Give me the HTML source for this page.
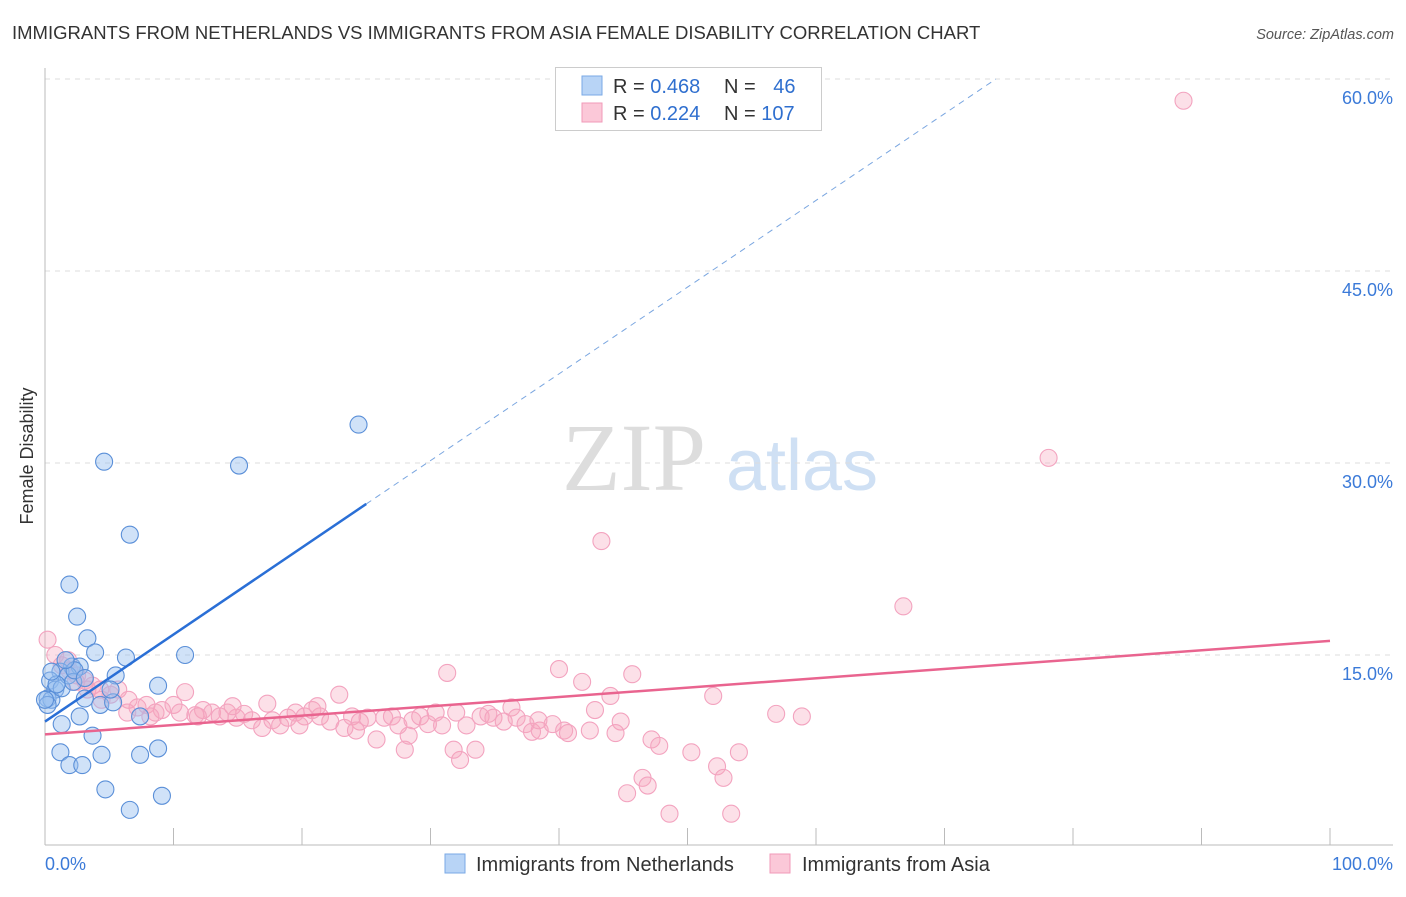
<!DOCTYPE html>
<html><head><meta charset="utf-8"><style>
body{margin:0;background:#fff;font-family:"Liberation Sans",sans-serif}
svg text{font-family:"Liberation Sans",sans-serif}
</style></head><body>
<svg width="1406" height="892" viewBox="0 0 1406 892" id="chart">
<text x="12" y="39" font-size="18.5" fill="#333">IMMIGRANTS FROM NETHERLANDS VS IMMIGRANTS FROM ASIA FEMALE DISABILITY CORRELATION CHART</text>
<text x="1394" y="39" font-size="14.5" fill="#555" font-style="italic" text-anchor="end">Source: ZipAtlas.com</text>
<text x="33" y="456" font-size="18" fill="#333" text-anchor="middle" transform="rotate(-90 33 456)">Female Disability</text>
<g>
<text x="634" y="490" font-size="96" fill="#ddd" text-anchor="middle" font-family="Liberation Serif" style="font-family:'Liberation Serif',serif">ZIP</text>
<text x="802" y="490" font-size="72" fill="#cfe0f4" text-anchor="middle">atlas</text>
</g>
<g id="grid"></g>
<g id="axes"></g>
<g id="points"></g>
<g id="trends"></g>
<g>
<rect x="555.5" y="67.5" width="266" height="63" fill="#fff" stroke="#ccc"/>
<rect x="582" y="76" width="20" height="19" fill="#b8d4f6" stroke="#7aa9e6"/>
<rect x="582" y="103" width="20" height="19" fill="#fbc8d8" stroke="#f09ab8"/>
<text x="613" y="93" font-size="20" fill="#333">R = <tspan fill="#2f6fcf">0.468</tspan></text>
<text x="724" y="93" font-size="20" fill="#333">N = <tspan fill="#2f6fcf" dx="12">46</tspan></text>
<text x="613" y="120" font-size="20" fill="#333">R = <tspan fill="#2f6fcf">0.224</tspan></text>
<text x="724" y="120" font-size="20" fill="#333">N = <tspan fill="#2f6fcf">107</tspan></text>
</g>
<g>
<rect x="445" y="854" width="20" height="19" fill="#b8d4f6" stroke="#7aa9e6"/>
<text x="476" y="871" font-size="20" fill="#333">Immigrants from Netherlands</text>
<rect x="770" y="854" width="20" height="19" fill="#fbc8d8" stroke="#f09ab8"/>
<text x="802" y="871" font-size="20" fill="#333">Immigrants from Asia</text>
</g>
</svg>
<script>
const yTicks=[15,30,45,60];
const yTickLabels=["15.0%","30.0%","45.0%","60.0%"];
const xTickValues=[0,10,20,30,40,50,60,70,80,90,100];
const blueX=[24.4,4.6,15.1,6.6,1.9,2.5,3.3,3.9,6.3,10.9,8.8,5.5,2.1,1.2,0.4,0.8,0.2,0.5,1.3,2.7,1.8,3.1,4.3,5.3,7.4,1.3,2.7,3.7,1.2,1.9,2.9,4.4,8.8,7.4,4.7,9.1,6.6,2.2,0.9,2.3,0.2,3.1,0.5,1.6,5.1,0];
const blueY=[33.0,30.1,29.8,24.4,20.5,18.0,16.3,15.2,14.8,15.0,12.6,13.4,14.1,13.7,13.0,12.3,11.6,11.5,12.4,14.1,13.4,11.6,11.1,11.3,10.2,9.6,10.2,8.7,7.4,6.4,6.4,7.2,7.7,7.2,4.5,4.0,2.9,12.9,12.7,13.8,11.1,13.2,13.7,14.6,12.3,11.5];
const pinkX=[88.6,78.1,43.3,66.8,52.0,56.9,58.9,31.3,40.0,45.7,41.8,44.0,42.8,44.8,44.4,47.2,47.8,50.3,54.0,52.3,52.8,46.5,46.9,45.3,48.6,53.4,32.3,33.5,31.8,28.0,25.8,28.3,22.9,17.3,10.9,
0.2,0.8,1.3,1.9,2.5,3.1,3.7,4.3,5.1,5.7,6.5,7.2,7.9,8.6,9.1,10.0,10.5,11.7,12.3,13.0,13.6,14.2,14.9,15.5,16.1,16.9,17.7,18.3,18.9,19.5,20.2,20.8,21.4,22.2,23.3,23.9,24.5,25.1,26.4,27.0,27.5,28.6,29.2,29.8,30.4,30.9,32.8,33.9,34.5,34.9,35.7,36.3,36.7,37.4,37.9,38.5,39.5,38.4,40.4,40.7,42.4,
6.4,8.2,11.9,14.6,19.8,21.2,24.2,2.4,3.3,1.8,4.4,32.0];
const pinkY=[58.3,30.4,23.9,18.8,11.8,10.4,10.2,13.6,13.9,13.5,12.9,11.8,10.7,9.8,8.9,8.4,7.9,7.4,7.4,6.3,5.4,5.4,4.8,4.2,2.6,2.6,6.8,7.6,7.6,7.6,8.4,8.7,11.9,11.2,12.1,
16.2,15.0,14.2,13.8,13.4,13.0,12.6,12.3,11.9,12.3,11.5,10.9,11.1,10.5,10.7,11.1,10.5,10.3,10.7,10.5,10.2,10.5,10.1,10.4,9.9,9.3,9.9,9.5,10.1,10.5,10.2,10.7,10.2,9.8,9.3,10.2,9.8,10.1,10.1,10.2,9.5,9.9,10.2,9.6,10.5,9.5,9.5,10.2,10.4,10.1,9.8,10.9,10.1,9.6,9.0,9.1,9.6,9.9,9.1,8.9,9.1,
10.5,10.2,10.2,11.0,9.5,11.0,9.1,12.9,12.3,14.6,11.5,10.5];
const blueTrend=[[0,9.8],[25,26.8]];
const blueTrendDash=[[25,26.8],[74,60]];
const pinkTrend=[[0,8.8],[100,16.1]];

const NS="http://www.w3.org/2000/svg";
const X=v=>45+v*12.85, Y=v=>847-v*12.8;
function mk(tag,attrs,parent){const e=document.createElementNS(NS,tag);for(const k in attrs)e.setAttribute(k,attrs[k]);parent.appendChild(e);return e;}
const grid=document.getElementById('grid'),axes=document.getElementById('axes'),pts=document.getElementById('points'),tr=document.getElementById('trends');
yTicks.forEach((t,i)=>{
 const l=mk('line',{x1:45,x2:1393,y1:Y(t),y2:Y(t),stroke:'#ddd','stroke-dasharray':'5,5'},grid);
 
 
 const tx=mk('text',{x:1393,y:Y(t)+25,'font-size':18,fill:'#3b7ad8','text-anchor':'end'},axes);
 tx.textContent=yTickLabels[i];
 
 
});
let al=mk('line',{x1:45,x2:45,y1:68,y2:845,stroke:'#bbb'},axes);


let bl=mk('line',{x1:45,x2:1393,y1:845,y2:845,stroke:'#bbb'},axes);


xTickValues.forEach(v=>{
 const t=mk('line',{x1:X(v),x2:X(v),y1:828,y2:845,stroke:'#bbb'},axes);
 
 
});
let x0=mk('text',{x:45,y:870,'font-size':18,fill:'#3b7ad8'},axes);x0.textContent='0.0%';


let x1=mk('text',{x:1393,y:870,'font-size':18,fill:'#3b7ad8','text-anchor':'end'},axes);x1.textContent='100.0%';


pinkX.forEach((v,i)=>{
 const c=mk('circle',{cx:X(v),cy:Y(pinkY[i]),r:8.5,fill:'rgba(246,165,190,0.35)',stroke:'#f3a3bf','stroke-width':1.1},pts);
 
 
});
blueX.forEach((v,i)=>{
 const c=mk('circle',{cx:X(v),cy:Y(blueY[i]),r:8.5,fill:'rgba(150,190,240,0.45)',stroke:'#5a8fd8','stroke-width':1.1},pts);
 
 
});
let p=mk('line',{x1:X(pinkTrend[0][0]),y1:Y(pinkTrend[0][1]),x2:X(pinkTrend[1][0]),y2:Y(pinkTrend[1][1]),stroke:'#e9648f','stroke-width':2.5},tr);


let b=mk('line',{x1:X(blueTrend[0][0]),y1:Y(blueTrend[0][1]),x2:X(blueTrend[1][0]),y2:Y(blueTrend[1][1]),stroke:'#2a6fd6','stroke-width':2.5},tr);


let bd=mk('line',{x1:X(blueTrendDash[0][0]),y1:Y(blueTrendDash[0][1]),x2:X(blueTrendDash[1][0]),y2:Y(blueTrendDash[1][1]),stroke:'#7aa6e0','stroke-width':1,'stroke-dasharray':'6,5'},tr);


</script>
</body></html>
